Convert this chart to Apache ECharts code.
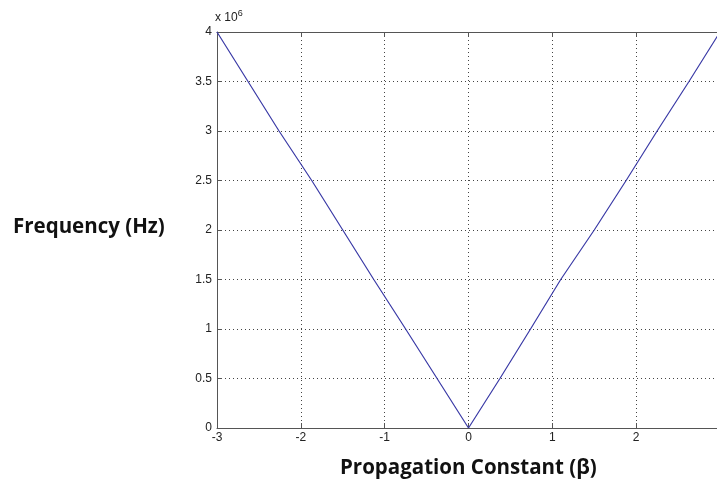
<!DOCTYPE html>
<html><head><meta charset="utf-8">
<script src="https://cdn.jsdelivr.net/npm/echarts@6/dist/echarts.min.js"></script>
<style>html,body{margin:0;padding:0;background:#fff;overflow:hidden}#c{width:730px;height:493px}</style>
</head><body><div id="c"></div>
<script>
// Propagation constant (beta) values
const beta = [-3, -2.63, -2.26, -1.87, -1.5, -1.13, -0.75, -0.375, 0, 0.375, 0.74, 1.1, 1.5, 1.88, 2.25, 2.63, 3];
// Frequency in Hz
const freqHz = [4.0e6, 3.5e6, 3.0e6, 2.5e6, 2.0e6, 1.5e6, 1.0e6, 0.5e6, 0, 0.5e6, 1.0e6, 1.5e6, 2.0e6, 2.5e6, 3.0e6, 3.5e6, 4.0e6];
const xTicks = [-3, -2, -1, 0, 1, 2, 3];
const yTicks = [0, 0.5, 1, 1.5, 2, 2.5, 3, 3.5, 4]; // x 10^6
const xTitle = 'Propagation Constant (\u03B2)';
const yTitle = 'Frequency (Hz)';
const expText = 'x 10';
const expSup = '6';

const data = beta.map((b, i) => [b, freqHz[i]]);
const chart = echarts.init(document.getElementById('c'));
const lblFont = {fontFamily: 'Liberation Sans, Arial, sans-serif', fontSize: 12, color: '#222'};
const gridLine = {show: true, lineStyle: {color: '#444', type: [1, 3], width: 1}};
chart.setOption({
  animation: false,
  backgroundColor: '#fff',
  grid: {left: 217, top: 32, width: 503, height: 396, containLabel: false},
  xAxis: [{
    type: 'value', min: -3, max: 3, interval: 1,
    axisLine: {show: true, onZero: false, lineStyle: {color: '#555', width: 1}},
    axisTick: {show: true, inside: true, length: 5, lineStyle: {color: '#555'}},
    axisLabel: Object.assign({margin: 4, formatter: v => xTicks.includes(v) ? String(v) : ''}, lblFont),
    splitLine: gridLine
  }, {
    type: 'value', min: -3, max: 3, interval: 1, position: 'top',
    axisLine: {show: true, onZero: false, lineStyle: {color: '#555', width: 1}},
    axisTick: {show: true, inside: true, length: 5, lineStyle: {color: '#555'}},
    axisLabel: {show: false}, splitLine: {show: false}
  }],
  yAxis: [{
    type: 'value', min: 0, max: 4e6, interval: 0.5e6,
    axisLine: {show: true, onZero: false, lineStyle: {color: '#555', width: 1}},
    axisTick: {show: true, inside: true, length: 5, lineStyle: {color: '#555'}},
    axisLabel: Object.assign({margin: 5, formatter: v => { const t = v / 1e6; return yTicks.includes(t) ? String(t) : ''; }}, lblFont),
    splitLine: gridLine
  }],
  series: [{
    type: 'line', data: data, xAxisIndex: 0, yAxisIndex: 0,
    showSymbol: false, symbol: 'none',
    lineStyle: {color: '#3a3aa6', width: 1.2}
  }],
  graphic: [
    {type: 'text', left: 215, top: 9, style: {
      rich: {a: {fontFamily: 'Liberation Sans, Arial, sans-serif', fontSize: 12, fill: '#222'},
             s: {fontFamily: 'Liberation Sans, Arial, sans-serif', fontSize: 9, fill: '#222', verticalAlign: 'top', padding: [0,0,8,0]}},
      text: '{a|' + expText + '}{s|' + expSup + '}'}},
    {type: 'text', left: 13, top: 217, style: {text: yTitle, fontFamily: 'Open Sans, sans-serif', fontWeight: 'bold', fontSize: 20.5, fill: '#111'}},
    {type: 'text', left: 340, top: 458, style: {text: xTitle, fontFamily: 'Open Sans, sans-serif', fontWeight: 'bold', fontSize: 20.5, fill: '#111'}}
  ]
});
</script></body></html>
